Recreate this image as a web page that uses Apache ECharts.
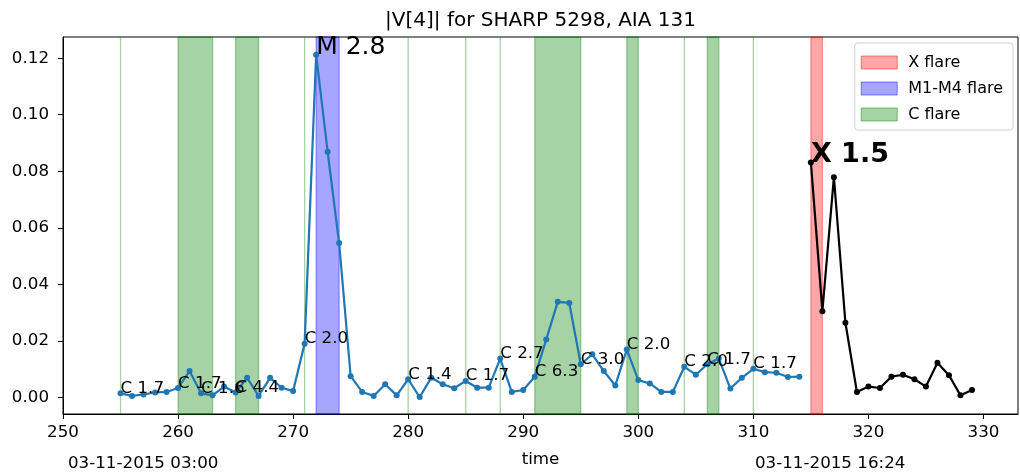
<!DOCTYPE html>
<html>
<head>
<meta charset="utf-8">
<script src="https://cdn.jsdelivr.net/npm/echarts@6/dist/echarts.min.js"></script>
<style>
html,body{margin:0;padding:0;background:#fff;}
#chart{width:1020px;height:473px;}
</style>
</head>
<body>
<div id="chart"></div>
<script>
// ---- data ----
const blueX = [255,256,257,258,259,260,261,262,263,264,265,266,267,268,269,270,271,272,273,274,
               275,276,277,278,279,280,281,282,283,284,285,286,287,288,289,290,291,292,293,294,
               295,296,297,298,299,300,301,302,303,304,305,306,307,308,309,310,311,312,313,314];
const blueY = [0.0014,0.0005,0.0010,0.0017,0.0019,0.0033,0.0093,0.0014,0.0007,0.0038,
               0.0017,0.0069,0.0005,0.0069,0.0034,0.0022,0.0190,0.1212,0.0869,0.0546,
               0.0075,0.0019,0.0005,0.0046,0.0007,0.0064,0.0001,0.0069,0.0046,0.0032,
               0.0058,0.0034,0.0034,0.0137,0.0019,0.0026,0.0073,0.0205,0.0338,0.0334,
               0.0117,0.0152,0.0093,0.0042,0.0169,0.0061,0.0049,0.0019,0.0019,0.0108,
               0.0080,0.0117,0.0137,0.0031,0.0069,0.0101,0.0089,0.0087,0.0072,0.0073];
const blackX = [315,316,317,318,319,320,321,322,323,324,325,326,327,328,329];
const blackY = [0.0831,0.0305,0.0779,0.0264,0.0019,0.0038,0.0033,0.0073,0.0080,0.0064,
                0.0038,0.0122,0.0078,0.0007,0.0026];

const cSpans = [[255,255],[260,263],[265,267],[271,271],[280,280],[285,285],[288,288],
                [291,295],[299,300],[304,304],[306,307],[310,310]];
const mSpans = [[272,274]];
const xSpans = [[315,316]];

const flareX = [255,260,262,265,271,272,280,285,288,291,295,299,304,306,310,315];
const flareText = ['C 1.7','C 1.7','C 1.6','C 4.4','C 2.0','M 2.8','C 1.4','C 1.7',
                   'C 2.7','C 6.3','C 3.0','C 2.0','C 2.0','C 1.7','C 1.7','X 1.5'];

const xTicks = [250,260,270,280,290,300,310,320,330];
const yTicks = [0,0.02,0.04,0.06,0.08,0.10,0.12];
const titleText = '|V[4]| for SHARP 5298, AIA 131';
const xName = 'time';
const dateLabels = ['03-11-2015 03:00','03-11-2015 16:24'];
const legendNames = ['X flare','M1-M4 flare','C flare'];

// ---- build ----
const FONT = 'DejaVu Sans';
const pairs = (xs, ys) => xs.map((x, i) => [x, ys[i]]);
const allX = blueX.concat(blackX), allY = blueY.concat(blackY);
const valueAt = x => allY[allX.indexOf(x)];

function spanArea(spans){ return spans.map(s => [{xAxis: s[0]}, {xAxis: s[1]}]); }

function labelStyle(t){
  if (t[0] === 'M') return {fontSize: 25, fontWeight: 'normal'};
  if (t[0] === 'X') return {fontSize: 27, fontWeight: 'bold'};
  return {fontSize: 16.7, fontWeight: 'normal'};
}

const labelData = flareX.map((x, i) => {
  const st = labelStyle(flareText[i]);
  return {
    value: [x, valueAt(x)],
    name: flareText[i],
    label: {
      show: true, formatter: flareText[i], position: [0, 0], align: 'left',
      verticalAlign: 'bottom', offset: [0, st.fontSize * 0.22],
      fontSize: st.fontSize, fontWeight: st.fontWeight, color: '#000', fontFamily: FONT,
      textBorderWidth: 0, opacity: 1
    }
  };
});

function spanSeries(name, rgb, spans){
  return {
    name: name, type: 'line', data: [], z: 1,
    itemStyle: {color: 'rgba(' + rgb + ',0.35)'},
    markArea: {
      silent: true,
      itemStyle: {color: 'rgba(' + rgb + ',0.35)', borderColor: 'rgba(' + rgb + ',0.35)', borderWidth: 1.3},
      data: spanArea(spans)
    }
  };
}

const chart = echarts.init(document.getElementById('chart'), null, {renderer: 'canvas'});
chart.setOption({
  animation: false,
  backgroundColor: '#fff',
  textStyle: {fontFamily: FONT, color: '#000'},
  title: {
    text: titleText, left: 540.5, top: 11, textAlign: 'center', padding: 0,
    textStyle: {fontFamily: FONT, fontSize: 20, fontWeight: 'normal', color: '#000'}
  },
  grid: {left: 63, right: 2, top: 37, bottom: 58, show: true, borderColor: '#000', borderWidth: 1, backgroundColor: 'transparent'},
  legend: {
    orient: 'vertical', right: 7, top: 43, padding: [11, 10, 7, 6],
    backgroundColor: '#fff', borderColor: '#d0d0d0', borderWidth: 1, borderRadius: 3,
    itemWidth: 36, itemHeight: 13, itemGap: 9,
    textStyle: {fontFamily: FONT, fontSize: 16, color: '#000', lineHeight: 17, padding: [0, 0, 0, 6]},
    data: [
      {name: legendNames[0], icon: 'rect', itemStyle: {borderColor: 'rgba(255,0,0,0.45)', borderWidth: 1}},
      {name: legendNames[1], icon: 'rect', itemStyle: {borderColor: 'rgba(0,0,255,0.45)', borderWidth: 1}},
      {name: legendNames[2], icon: 'rect', itemStyle: {borderColor: 'rgba(0,128,0,0.45)', borderWidth: 1}}
    ]
  },
  xAxis: {
    type: 'value', min: 250, max: 333,
    name: xName, nameLocation: 'middle', nameGap: 37,
    nameTextStyle: {fontFamily: FONT, fontSize: 16.7, color: '#000'},
    axisLine: {show: true, onZero: false, lineStyle: {color: '#000', width: 1}},
    axisTick: {show: true, length: 5, customValues: xTicks, lineStyle: {color: '#000'}},
    axisLabel: {customValues: xTicks, margin: 10, fontFamily: FONT, fontSize: 16.7, color: '#000'},
    splitLine: {show: false}
  },
  yAxis: {
    type: 'value', min: -0.0059, max: 0.1275,
    axisLine: {show: true, onZero: false, lineStyle: {color: '#000', width: 1}},
    axisTick: {show: true, length: 5, customValues: yTicks, lineStyle: {color: '#000'}},
    axisLabel: {customValues: yTicks, margin: 14, fontFamily: FONT, fontSize: 16.7, color: '#000',
                formatter: v => v.toFixed(2)},
    splitLine: {show: false}
  },
  graphic: [
    {type: 'text', left: 68, top: 455, style: {text: dateLabels[0], font: '16.7px "DejaVu Sans"', fill: '#000'}},
    {type: 'text', left: 755, top: 455, style: {text: dateLabels[1], font: '16.7px "DejaVu Sans"', fill: '#000'}}
  ],
  series: [
    spanSeries(legendNames[0], '255,0,0', xSpans),
    spanSeries(legendNames[1], '0,0,255', mSpans),
    spanSeries(legendNames[2], '0,128,0', cSpans),
    {
      name: 'blue', type: 'line', data: pairs(blueX, blueY), z: 3,
      symbol: 'circle', symbolSize: 6, showSymbol: true,
      lineStyle: {color: '#1f77b4', width: 2.2}, itemStyle: {color: '#1f77b4'}
    },
    {
      name: 'black', type: 'line', data: pairs(blackX, blackY), z: 3,
      symbol: 'circle', symbolSize: 6, showSymbol: true,
      lineStyle: {color: '#000', width: 2.2}, itemStyle: {color: '#000'}
    },
    {
      name: 'labels', type: 'scatter', data: labelData, z: 5,
      symbolSize: 0, itemStyle: {color: '#000', opacity: 1}, silent: true,
      label: {show: true, color: '#000', fontFamily: FONT}
    }
  ]
});
</script>
</body>
</html>
